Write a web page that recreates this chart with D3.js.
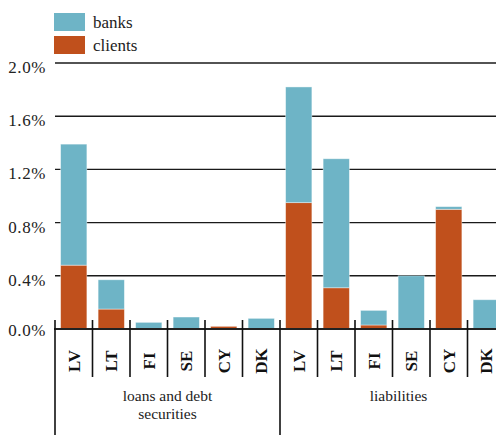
<!DOCTYPE html>
<meta charset="utf-8">
<style>
    body {
        margin: 0;
        background: #fff;
    }
    #graph {
        width: 496px;
        height: 435px;
        overflow: hidden;
    }
    svg text {
        font-family: "Liberation Serif", "DejaVu Serif", "Times New Roman", serif;
    }
</style>
<script src="https://d3js.org/d3.v7.min.js"></script>
<div id="graph"></div>
<script>
    // data (percent)
    const groups = ["loans and debt securities", "liabilities"],
        countries = ["LV", "LT", "FI", "SE", "CY", "DK"],
        clientsLoans = [0.48, 0.15, 0.0, 0.0, 0.02, 0.0],
        banksLoans = [0.91, 0.22, 0.05, 0.09, 0.0, 0.08],
        clientsLiab = [0.95, 0.31, 0.03, 0.0, 0.90, 0.0],
        banksLiab = [0.87, 0.97, 0.11, 0.40, 0.02, 0.22],
        yTicks = [0, 0.4, 0.8, 1.2, 1.6, 2.0];

    const colors = {banks: "#6eb4c6", clients: "#c0501c"};

    // one row per bar
    let data = [];
    countries.forEach((c, i) => {
        data.push({key: "loans-" + c, group: groups[0], country: c, clients: clientsLoans[i], banks: banksLoans[i]});
    });
    countries.forEach((c, i) => {
        data.push({key: "liab-" + c, group: groups[1], country: c, clients: clientsLiab[i], banks: banksLiab[i]});
    });

    const width = 496, height = 435;
    const margin = {left: 55, top: 63, bottom: 329, right: 505};

    const svg = d3.select("#graph").append("svg")
        .attr("width", width)
        .attr("height", height);

    const x = d3.scaleBand()
        .domain(data.map(d => d.key))
        .range([margin.left, margin.right])
        .paddingInner(0.3)
        .paddingOuter(0.15);

    const y = d3.scaleLinear()
        .domain([0, 2.0])
        .range([margin.bottom, margin.top]);

    // gridlines + y labels
    svg.append("g")
        .selectAll("line")
        .data(yTicks.filter(t => t > 0))
        .enter().append("line")
        .attr("x1", margin.left)
        .attr("x2", width)
        .attr("y1", d => y(d))
        .attr("y2", d => y(d))
        .attr("stroke", "#1a1a1a")
        .attr("stroke-width", 1.4);

    svg.append("g")
        .selectAll("text")
        .data(yTicks)
        .enter().append("text")
        .attr("x", 46)
        .attr("y", d => y(d) + (d > 0 ? 10 : 7))
        .attr("text-anchor", "end")
        .attr("font-size", 17)
        .attr("letter-spacing", 0.6)
        .attr("fill", "#222")
        .text(d => d.toFixed(1) + "%");

    // stacked bars: clients below, banks on top
    const stack = d3.stack().keys(["clients", "banks"]);
    const layers = stack(data);

    svg.append("g")
        .selectAll("g")
        .data(layers)
        .enter().append("g")
        .attr("fill", d => colors[d.key])
        .selectAll("rect")
        .data(d => d.filter(p => p[1] - p[0] > 0))
        .enter().append("rect")
        .attr("x", d => x(d.data.key))
        .attr("width", x.bandwidth())
        .attr("y", d => y(d[1]))
        .attr("height", d => y(d[0]) - y(d[1]))
        .attr("stroke", "#fff")
        .attr("stroke-opacity", 0.5)
        .attr("stroke-width", 0.8);

    // baseline
    svg.append("line")
        .attr("x1", margin.left - 1)
        .attr("x2", width)
        .attr("y1", y(0))
        .attr("y2", y(0))
        .attr("stroke", "#222")
        .attr("stroke-width", 2.2);

    // separators between categories
    const step = x.step();
    const sepX = d3.range(data.length).map(i => margin.left + i * step);
    svg.append("g")
        .selectAll("line")
        .data(sepX)
        .enter().append("line")
        .attr("x1", d => d)
        .attr("x2", d => d)
        .attr("y1", y(0) - 9)
        .attr("y2", (d, i) => i % countries.length === 0 ? height : 377)
        .attr("stroke", "#111")
        .attr("stroke-width", 1.6);

    // rotated country labels
    svg.append("g")
        .selectAll("text")
        .data(data)
        .enter().append("text")
        .attr("transform", d => `translate(${x(d.key) + x.bandwidth() / 2 + 6},361)rotate(-90)`)
        .attr("text-anchor", "middle")
        .attr("font-size", 17)
        .attr("font-weight", "bold")
        .attr("fill", "#111")
        .text(d => d.country);

    // group labels, one text per line
    const groupLines = [["loans and debt", "securities"], ["liabilities"]];
    groups.forEach((g, gi) => {
        const x0 = margin.left + gi * countries.length * step,
            cx = x0 + countries.length * step / 2 + (gi === 1 ? 6 : 0);
        groupLines[gi].forEach((line, li) => {
            svg.append("text")
                .attr("x", cx)
                .attr("y", 401 + li * 18)
                .attr("text-anchor", "middle")
                .attr("font-size", 15.5)
                .attr("fill", "#222")
                .text(line);
        });
    });

    // legend
    const legend = svg.append("g");
    [["banks", 13, 28], ["clients", 36, 51]].forEach(([k, ry, ty]) => {
        legend.append("rect")
            .attr("x", 54).attr("y", ry)
            .attr("width", 31).attr("height", 18)
            .attr("fill", colors[k]);
        legend.append("text")
            .attr("x", 93).attr("y", ty)
            .attr("font-size", 17)
            .attr("fill", "#222")
            .text(k);
    });
</script>
